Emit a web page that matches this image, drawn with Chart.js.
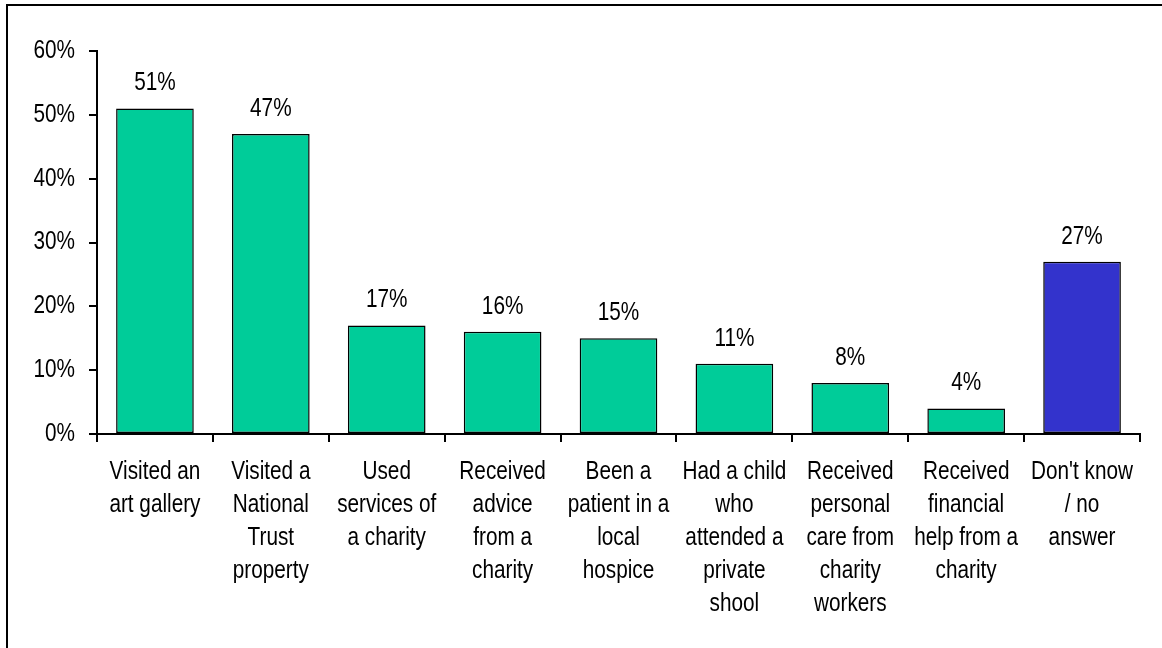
<!DOCTYPE html>
<html>
<head>
<meta charset="utf-8">
<script src="https://cdn.jsdelivr.net/npm/chart.js@4/dist/chart.umd.min.js"></script>
<style>
html,body{margin:0;padding:0;background:#fff;}
#wrap{width:1162px;height:648px;position:relative;}
</style>
</head>
<body>
<div id="wrap"><canvas id="c" width="1162" height="648"></canvas></div>
<script>
const categories = [
  ["Visited an","art gallery"],
  ["Visited a","National","Trust","property"],
  ["Used","services of","a charity"],
  ["Received","advice","from a","charity"],
  ["Been a","patient in a","local","hospice"],
  ["Had a child","who","attended a","private","shool"],
  ["Received","personal","care from","charity","workers"],
  ["Received","financial","help from a","charity"],
  ["Don't know","/ no","answer"]
];
const values = [51, 47, 17, 16, 15, 11, 8, 4, 27];
const barColors = ["#00CC99","#00CC99","#00CC99","#00CC99","#00CC99","#00CC99","#00CC99","#00CC99","#3333CC"];
const yTicks = [0, 10, 20, 30, 40, 50, 60];

const FONT = "'Liberation Sans', Arial, sans-serif";
const FONT_SIZE = 25;
const NARROW = 0.83; // horizontal condensing to mimic a narrow face

const canvas = document.getElementById('c');
const ctx2d = canvas.getContext('2d');
const origFill = ctx2d.fillText.bind(ctx2d);
ctx2d.fillText = function (t, x, y, mw) {
  this.save();
  this.translate(x, y);
  this.scale(NARROW, 1);
  if (mw !== undefined && isFinite(mw)) origFill(t, 0, 0, mw / NARROW);
  else origFill(t, 0, 0);
  this.restore();
};

const frame = {
  id: 'frame',
  beforeDraw(chart) {
    const ctx = chart.ctx;
    ctx.save();
    ctx.fillStyle = '#fff';
    ctx.fillRect(0, 0, chart.width, chart.height);
    ctx.strokeStyle = '#000';
    ctx.lineWidth = 2;
    ctx.strokeRect(7, 5, 1300, 800);
    ctx.restore();
  }
};

const valueLabels = {
  id: 'valueLabels',
  afterDatasetsDraw(chart) {
    const ctx = chart.ctx;
    const meta = chart.getDatasetMeta(0);
    ctx.save();
    ctx.font = FONT_SIZE + 'px ' + FONT;
    ctx.fillStyle = '#000';
    ctx.textAlign = 'center';
    ctx.textBaseline = 'alphabetic';
    meta.data.forEach((bar, i) => {
      ctx.fillText(values[i] + '%', bar.x, bar.y - 18);
    });
    ctx.restore();
  }
};

new Chart(canvas, {
  type: 'bar',
  data: {
    labels: categories,
    datasets: [{
      data: values,
      backgroundColor: barColors,
      borderColor: '#000',
      borderWidth: 1.5,
      borderSkipped: false,
      categoryPercentage: 1,
      barPercentage: 0.67
    }]
  },
  options: {
    responsive: false,
    animation: false,
    devicePixelRatio: 1,
    layout: { padding: { top: 51, left: 0, right: 22, bottom: 0 } },
    plugins: { legend: { display: false }, tooltip: { enabled: false } },
    scales: {
      x: {
        afterFit(s) { s.height = 214; },
        grid: {
          offset: true,
          drawOnChartArea: false,
          drawTicks: true,
          tickLength: 8,
          color: '#000',
          lineWidth: 2
        },
        border: { display: true, color: '#000', width: 2 },
        ticks: {
          color: '#000',
          font: { family: FONT, size: FONT_SIZE, lineHeight: 1.32 },
          padding: 14,
          maxRotation: 0,
          minRotation: 0,
          autoSkip: false
        }
      },
      y: {
        min: 0,
        max: 60,
        afterFit(s) { s.width = 97; },
        afterBuildTicks(s) { s.ticks = yTicks.map(v => ({ value: v })); },
        grid: {
          drawOnChartArea: false,
          drawTicks: true,
          tickLength: 8,
          color: '#000',
          lineWidth: 2
        },
        border: { display: true, color: '#000', width: 2 },
        ticks: {
          color: '#000',
          font: { family: FONT, size: FONT_SIZE },
          padding: 14,
          callback: v => v + '%'
        }
      }
    }
  },
  plugins: [frame, valueLabels]
});
</script>
</body>
</html>
